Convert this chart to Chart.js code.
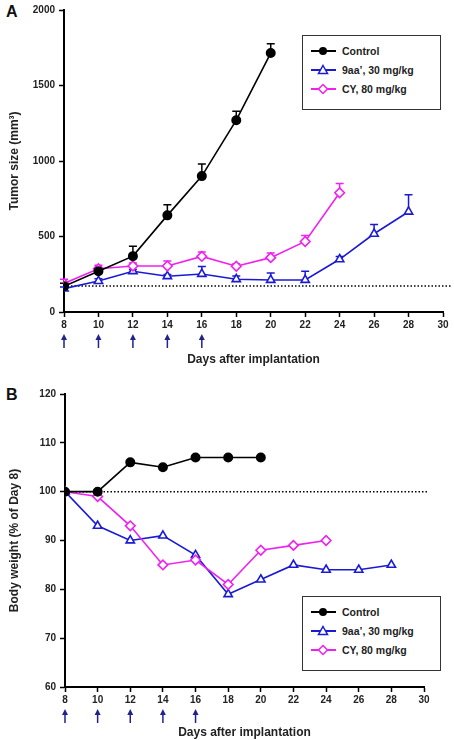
<!DOCTYPE html>
<html>
<head>
<meta charset="utf-8">
<script src="https://cdn.jsdelivr.net/npm/chart.js@4.4.1/dist/chart.umd.min.js"></script>
<style>
  html, body { margin: 0; padding: 0; background: #fff; }
  body { width: 454px; height: 740px; position: relative; overflow: hidden; font-family: "Liberation Sans", Arial, sans-serif; color: #222; }
  .panel { position: absolute; left: 0; width: 454px; height: 370px; }
  #panel-a { top: 0; }
  #panel-b { top: 370px; }
  .letter { position: absolute; font-weight: bold; font-size: 16px; color: #111; }
  .legend { position: absolute; left: 302px; width: 137px; height: 68px; border: 1.5px solid #333; background: #fff; box-sizing: content-box; padding-top: 5px; }
  .legend-row { display: flex; align-items: center; height: 19px; font-weight: bold; font-size: 10.5px; }
  .legend-row svg { margin-left: 7px; margin-right: 5px; }
</style>
</head>
<body>
  <div class="letter" style="left:6px; top:3px;">A</div>
  <div class="letter" style="left:6px; top:386px;">B</div>
  <div class="panel" id="panel-a"><canvas id="chart-a" width="454" height="370"></canvas></div>
  <div class="panel" id="panel-b"><canvas id="chart-b" width="454" height="370"></canvas></div>
  <div class="legend" id="legend-a" style="top:35px;"></div>
  <div class="legend" id="legend-b" style="top:596px;"></div>

<script>
// Days of measurement
const days = [8, 10, 12, 14, 16, 18, 20, 22, 24, 26, 28];
const doseDays = [8, 10, 12, 14, 16];

const seriesNames = ['Control', '9aa\u2019, 30 mg/kg', 'CY, 80 mg/kg'];
const seriesColors = ['#000000', '#1a1ad6', '#f020f0'];

// Panel A: tumor size (mm3), mean and upper error
const controlSize = [170, 270, 370, 640, 900, 1270, 1715];
const controlSizeErr = [20, 20, 66, 70, 80, 60, 62];
const aaSize = [155, 205, 270, 237, 252, 217, 212, 212, 349, 518, 664];
const aaSizeErr = [10, 15, 12, 12, 50, 22, 46, 58, 19, 61, 112];
const cySize = [189, 287, 305, 305, 368, 303, 360, 467, 790];
const cySizeErr = [28, 22, 20, 32, 29, 17, 30, 39, 61];
const sizeBaseline = 172;
const sizeTicks = [0, 500, 1000, 1500, 2000];

// Panel B: body weight (% of day 8)
const controlWeight = [100, 100, 106, 105, 107, 107, 107];
const aaWeight = [100, 93, 90, 91, 87, 79, 82, 85, 84, 84, 85];
const cyWeight = [100, 99, 93, 85, 86, 81, 88, 89, 90];
const weightBaseline = 100;
const weightTicks = [60, 70, 80, 90, 100, 110, 120];

const FONT = '"Liberation Sans", Arial, sans-serif';
const toPoints = vals => vals.map((v, i) => ({ x: days[i], y: v }));

// upper error bars, drawn behind the markers
const errorBars = {
  id: 'errorBars',
  beforeDatasetsDraw(chart) {
    const { ctx } = chart;
    const yScale = chart.scales.y;
    chart.data.datasets.forEach((ds, i) => {
      if (!ds.errors) return;
      const meta = chart.getDatasetMeta(i);
      ctx.save();
      ctx.strokeStyle = ds.borderColor;
      ctx.lineWidth = 1.5;
      meta.data.forEach((pt, j) => {
        const top = yScale.getPixelForValue(ds.data[j].y + ds.errors[j]);
        ctx.beginPath();
        ctx.moveTo(pt.x, pt.y);
        ctx.lineTo(pt.x, top);
        ctx.moveTo(pt.x - 4, top);
        ctx.lineTo(pt.x + 4, top);
        ctx.stroke();
      });
      ctx.restore();
    });
  }
};

// dosing arrows under the x axis
const doseArrows = {
  id: 'doseArrows',
  afterDraw(chart) {
    const { ctx } = chart;
    const x = chart.scales.x;
    const y0 = x.top + 22, y1 = x.top + 36;
    ctx.save();
    ctx.strokeStyle = '#22228c';
    ctx.fillStyle = '#22228c';
    ctx.lineWidth = 1.5;
    doseDays.forEach(d => {
      const px = x.getPixelForValue(d);
      ctx.beginPath();
      ctx.moveTo(px, y1);
      ctx.lineTo(px, y0 + 4);
      ctx.stroke();
      ctx.beginPath();
      ctx.moveTo(px, y0);
      ctx.lineTo(px - 3, y0 + 6);
      ctx.lineTo(px + 3, y0 + 6);
      ctx.closePath();
      ctx.fill();
    });
    ctx.restore();
  }
};

function seriesDataset(idx, values, errors, style) {
  return {
    label: seriesNames[idx],
    data: toPoints(values),
    errors: errors,
    borderColor: seriesColors[idx],
    borderWidth: 1.6,
    pointStyle: style,
    pointRadius: style === 'circle' ? 4.2 : 4.8,
    pointBorderWidth: 1.6,
    pointBorderColor: seriesColors[idx],
    pointBackgroundColor: style === 'circle' ? seriesColors[idx] : '#ffffff',
    tension: 0,
    order: idx === 0 ? 0 : 3 - idx,
  };
}

function baselineDataset(value, endDay) {
  return {
    label: 'baseline',
    data: [{ x: 8, y: value }, { x: endDay, y: value }],
    borderColor: '#000',
    borderWidth: 1.5,
    borderDash: [1.5, 2],
    pointRadius: 0,
    clip: false,
    order: 10,
  };
}

function makeChart(canvasId, cfg) {
  return new Chart(document.getElementById(canvasId), {
    type: 'line',
    data: { datasets: cfg.datasets },
    options: {
      responsive: false,
      animation: false,
      events: [],
      layout: { padding: { top: cfg.top, right: cfg.right, left: 0, bottom: 0 } },
      plugins: { legend: { display: false }, tooltip: { enabled: false } },
      scales: {
        x: {
          type: 'linear',
          min: 8, max: 30,
          afterFit: s => { s.height = cfg.xHeight; },
          border: { color: '#000', width: 2 },
          grid: { drawOnChartArea: false, tickLength: 5, tickColor: '#000', tickWidth: 1.5 },
          ticks: { stepSize: 2, padding: 2, color: '#222', callback: v => String(v),
                   font: { family: FONT, size: 10, weight: 'bold' } },
          title: { display: true, text: 'Days after implantation', color: '#222', padding: { top: 0, bottom: cfg.titlePad },
                   font: { family: FONT, size: 12, weight: 'bold' } },
        },
        y: {
          min: cfg.ticks[0], max: cfg.ticks[cfg.ticks.length - 1],
          afterFit: s => { s.width = cfg.yWidth; },
          afterBuildTicks: s => { s.ticks = cfg.ticks.map(v => ({ value: v })); },
          border: { color: '#000', width: 2 },
          grid: { drawOnChartArea: false, tickLength: 5, tickColor: '#000', tickWidth: 1.5 },
          ticks: { padding: 4, color: '#222', callback: v => String(v),
                   font: { family: FONT, size: 10, weight: 'bold' } },
          title: { display: true, text: cfg.yTitle, color: '#222', padding: { top: 7, bottom: 0 },
                   font: { family: FONT, size: 12, weight: 'bold' } },
        },
      },
    },
    plugins: [errorBars, doseArrows],
  });
}

makeChart('chart-a', {
  top: 8, right: 11, xHeight: 58, yWidth: 64, titlePad: 3,
  ticks: sizeTicks,
  yTitle: 'Tumor size (mm\u00B3)',
  datasets: [
    seriesDataset(0, controlSize, controlSizeErr, 'circle'),
    seriesDataset(1, aaSize, aaSizeErr, 'triangle'),
    seriesDataset(2, cySize, cySizeErr, 'rectRot'),
    baselineDataset(sizeBaseline, 30.5),
  ],
});

makeChart('chart-b', {
  top: 24, right: 30, xHeight: 53, yWidth: 65, titlePad: 0,
  ticks: weightTicks,
  yTitle: 'Body weight (% of Day 8)',
  datasets: [
    seriesDataset(0, controlWeight, null, 'circle'),
    seriesDataset(1, aaWeight, null, 'triangle'),
    seriesDataset(2, cyWeight, null, 'rectRot'),
    baselineDataset(weightBaseline, 30.2),
  ],
});

// legends
function markerSvg(idx) {
  const c = seriesColors[idx];
  let m;
  if (idx === 0) m = `<circle cx="13" cy="6" r="4" fill="${c}"/>`;
  else if (idx === 1) m = `<polygon points="13,1.5 17.5,9.5 8.5,9.5" fill="#fff" stroke="${c}" stroke-width="1.5"/>`;
  else m = `<polygon points="13,1.5 17.5,6 13,10.5 8.5,6" fill="#fff" stroke="${c}" stroke-width="1.5"/>`;
  return `<svg width="27" height="12" viewBox="0 0 27 12"><line x1="1" y1="6" x2="26" y2="6" stroke="${c}" stroke-width="2"/>${m}</svg>`;
}
['legend-a', 'legend-b'].forEach(id => {
  document.getElementById(id).innerHTML = seriesNames.map((name, i) =>
    `<div class="legend-row">${markerSvg(i)}<span>${name}</span></div>`).join('');
});
</script>
</body>
</html>
